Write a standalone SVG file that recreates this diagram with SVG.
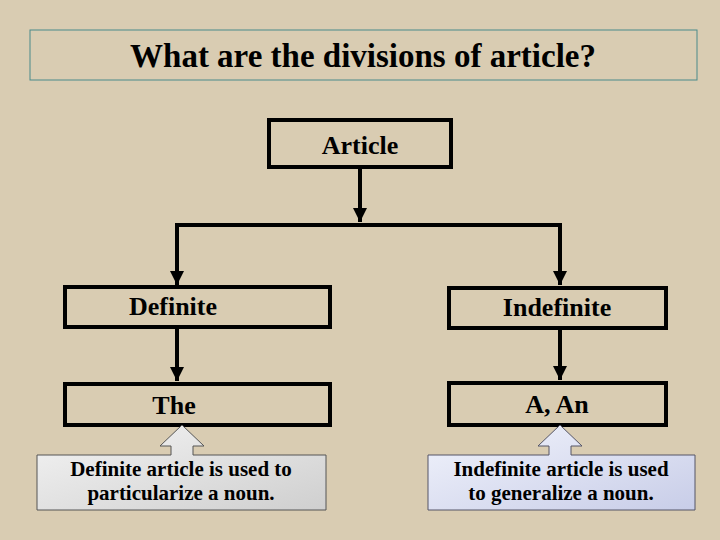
<svg xmlns="http://www.w3.org/2000/svg" width="720" height="540" viewBox="0 0 720 540">
<defs>
<style>
.box{fill:none;stroke:#000;stroke-width:4}
.t{font-family:"Liberation Serif","Times New Roman","DejaVu Serif",serif;font-weight:bold;font-size:26px;text-anchor:middle;fill:#000}
.h{font-size:33px}
.c{font-family:"Liberation Serif","Times New Roman","DejaVu Serif",serif;font-weight:bold;font-size:21px;text-anchor:middle;fill:#000}
.ln{fill:none;stroke:#000;stroke-width:4}
</style>
<marker id="a" viewBox="0 0 10 10" refX="10" refY="5" markerWidth="14" markerHeight="20" markerUnits="userSpaceOnUse" orient="auto"><path d="M0,0 L10,5 L0,10 Z" fill="#000"/></marker>
<linearGradient id="g1" x1="0" y1="0" x2="1" y2="1"><stop offset="0" stop-color="#f4f4f4"/><stop offset="1" stop-color="#cfcfcf"/></linearGradient>
<linearGradient id="g2" x1="0" y1="0" x2="1" y2="1"><stop offset="0" stop-color="#f2f4fc"/><stop offset="1" stop-color="#c8cde8"/></linearGradient>
</defs>
<rect width="720" height="540" fill="#d9ccb2"/>
<g id="title"><rect x="30" y="30" width="667" height="50" fill="none" stroke="#4a8a8a" stroke-width="1"/><text class="t h" x="363" y="67">What are the divisions of article?</text></g>
<g id="connectors">
<line class="ln" x1="360" y1="167" x2="360" y2="222" marker-end="url(#a)"/>
<polyline class="ln" points="177,285 177,225 560,225 560,285" marker-end="url(#a)"/>
<line class="ln" x1="177" y1="225" x2="177" y2="285" marker-end="url(#a)"/>
<line class="ln" x1="177" y1="327" x2="177" y2="381" marker-end="url(#a)"/>
<line class="ln" x1="560" y1="328" x2="560" y2="380" marker-end="url(#a)"/>
</g>
<g id="article"><rect class="box" x="269" y="120" width="182" height="47"/><text class="t" x="360" y="154">Article</text></g>
<g id="definite"><rect class="box" x="65" y="287" width="265" height="40"/><text class="t" x="173" y="315">Definite</text></g>
<g id="indefinite"><rect class="box" x="449" y="288" width="217" height="40"/><text class="t" x="557" y="316">Indefinite</text></g>
<g id="the"><rect class="box" x="65" y="384" width="265" height="41"/><text class="t" x="174" y="414">The</text></g>
<g id="a-an"><rect class="box" x="449" y="383" width="217" height="42"/><text class="t" x="557" y="413">A, An</text></g>
<g id="note-def"><path d="M37,455 H171 V446 H160 L182,425 L204,446 H193 V455 H326 V510 H37 Z" fill="url(#g1)" stroke="#555" stroke-width="1"/><text class="c" x="181" y="476">Definite article is used to</text><text class="c" x="181" y="500">particularize a noun.</text></g>
<g id="note-indef"><path d="M428,455 H549 V446 H538 L560,425 L582,446 H571 V455 H695 V510 H428 Z" fill="url(#g2)" stroke="#556" stroke-width="1"/><text class="c" x="561" y="476">Indefinite article is used</text><text class="c" x="561" y="500">to generalize a noun.</text></g>
</svg>
